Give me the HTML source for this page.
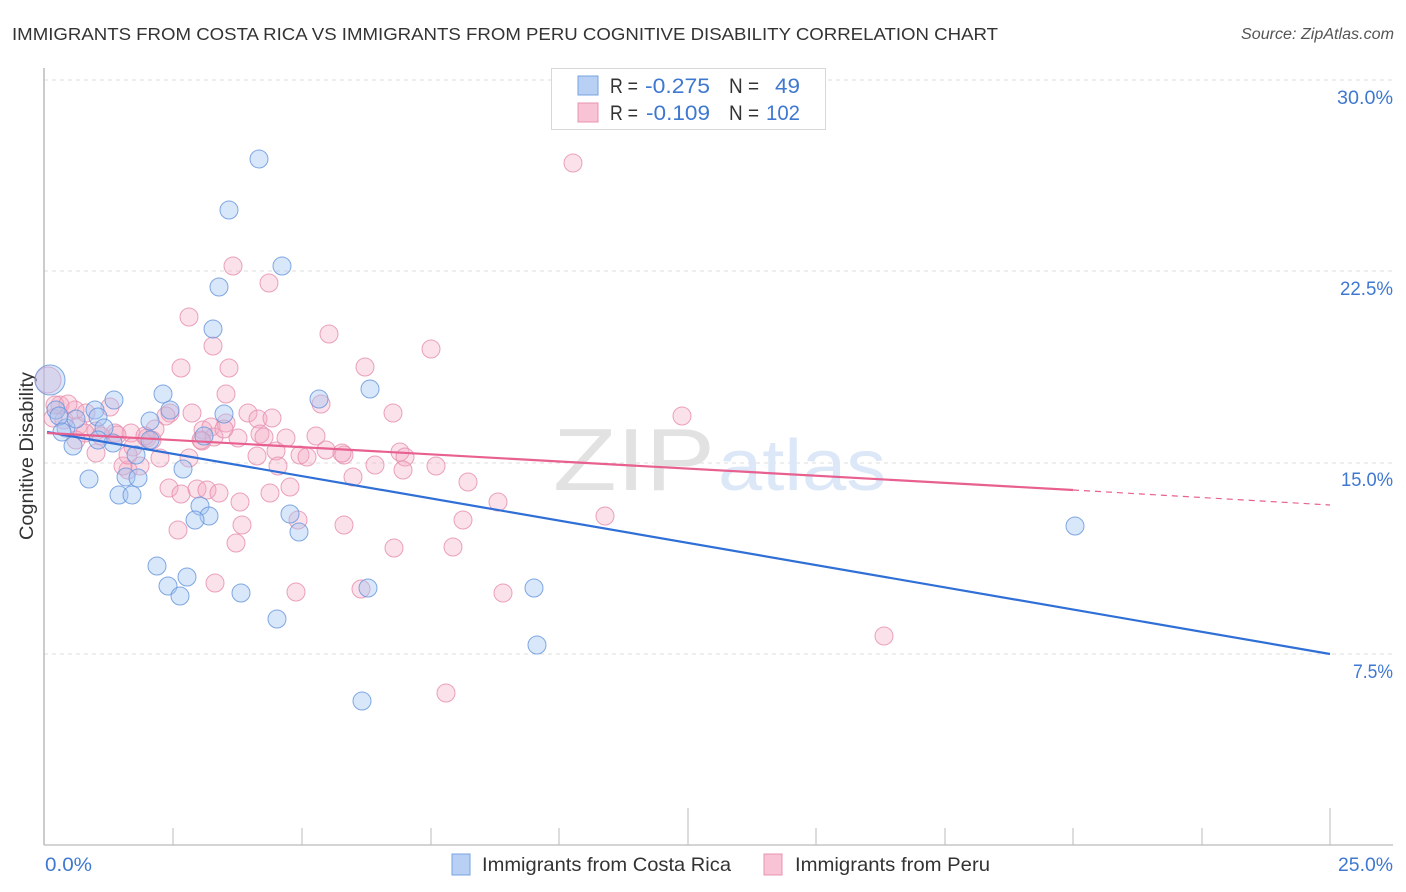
<!DOCTYPE html>
<html><head><meta charset="utf-8"><style>
html,body{margin:0;padding:0;background:#fff;}
svg{display:block;}
text{font-family:"Liberation Sans",sans-serif;}
</style></head><body>
<svg width="1406" height="892" viewBox="0 0 1406 892" xmlns="http://www.w3.org/2000/svg">
<rect width="1406" height="892" fill="#fff"/>
<text x="12" y="40" font-size="17.5" fill="#333" textLength="986" lengthAdjust="spacingAndGlyphs">IMMIGRANTS FROM COSTA RICA VS IMMIGRANTS FROM PERU COGNITIVE DISABILITY CORRELATION CHART</text>
<text x="1241" y="39" font-size="15.5" fill="#555" font-style="italic" textLength="153" lengthAdjust="spacingAndGlyphs">Source: ZipAtlas.com</text>
<g stroke="#dcdcdc" stroke-width="1" stroke-dasharray="4,4">
<line x1="44" y1="80" x2="1393" y2="80"/>
<line x1="44" y1="271" x2="1393" y2="271"/>
<line x1="44" y1="463" x2="1393" y2="463"/>
<line x1="44" y1="654" x2="1393" y2="654"/>
</g>
<g font-size="19" fill="#3f78d0">
<text x="1337" y="104" textLength="56" lengthAdjust="spacingAndGlyphs">30.0%</text>
<text x="1340" y="295" textLength="53" lengthAdjust="spacingAndGlyphs">22.5%</text>
<text x="1341" y="486" textLength="52" lengthAdjust="spacingAndGlyphs">15.0%</text>
<text x="1353" y="678" textLength="40" lengthAdjust="spacingAndGlyphs">7.5%</text>
<text x="45" y="871" textLength="47" lengthAdjust="spacingAndGlyphs">0.0%</text>
<text x="1338" y="871" textLength="55" lengthAdjust="spacingAndGlyphs">25.0%</text>
</g>
<text transform="translate(33,540) rotate(-90)" font-size="19" fill="#333" textLength="168" lengthAdjust="spacingAndGlyphs">Cognitive Disability</text>
<text x="553" y="490" font-size="88" fill="#e2e2e2" font-family="Liberation Serif,serif" textLength="162" lengthAdjust="spacingAndGlyphs">ZIP</text>
<text x="718" y="490" font-size="72" fill="#dce7f7" textLength="168" lengthAdjust="spacingAndGlyphs">atlas</text>
<line x1="44" y1="68" x2="44" y2="845" stroke="#aaa" stroke-width="1.2"/>
<line x1="44" y1="845" x2="1393" y2="845" stroke="#bbb" stroke-width="1.2"/>
<g stroke="#bbb" stroke-width="1">
<line x1="173" y1="828" x2="173" y2="845"/>
<line x1="302" y1="828" x2="302" y2="845"/>
<line x1="431" y1="828" x2="431" y2="845"/>
<line x1="559" y1="828" x2="559" y2="845"/>
<line x1="688" y1="808" x2="688" y2="845"/>
<line x1="816" y1="828" x2="816" y2="845"/>
<line x1="945" y1="828" x2="945" y2="845"/>
<line x1="1073" y1="828" x2="1073" y2="845"/>
<line x1="1202" y1="828" x2="1202" y2="845"/>
<line x1="1330" y1="808" x2="1330" y2="845"/>
</g>
<g fill="rgba(244,170,196,0.35)" stroke="rgba(230,140,172,0.8)" stroke-width="1">
<circle cx="48" cy="380" r="13"/>
<circle cx="573" cy="163" r="9"/>
<circle cx="723" cy="108" r="9"/>
<circle cx="233" cy="266" r="9"/>
<circle cx="269" cy="283" r="9"/>
<circle cx="189" cy="317" r="9"/>
<circle cx="329" cy="334" r="9"/>
<circle cx="213" cy="346" r="9"/>
<circle cx="431" cy="349" r="9"/>
<circle cx="181" cy="368" r="9"/>
<circle cx="229" cy="368" r="9"/>
<circle cx="365" cy="367" r="9"/>
<circle cx="226" cy="394" r="9"/>
<circle cx="321" cy="404" r="9"/>
<circle cx="393" cy="413" r="9"/>
<circle cx="110" cy="407" r="9"/>
<circle cx="170" cy="413" r="9"/>
<circle cx="192" cy="413" r="9"/>
<circle cx="248" cy="413" r="9"/>
<circle cx="258" cy="419" r="9"/>
<circle cx="272" cy="418" r="9"/>
<circle cx="203" cy="430" r="9"/>
<circle cx="211" cy="427" r="9"/>
<circle cx="682" cy="416" r="9"/>
<circle cx="96" cy="431" r="9"/>
<circle cx="78" cy="426" r="9"/>
<circle cx="64" cy="420" r="9"/>
<circle cx="60" cy="405" r="9"/>
<circle cx="75" cy="410" r="9"/>
<circle cx="86" cy="413" r="9"/>
<circle cx="101" cy="436" r="9"/>
<circle cx="115" cy="433" r="9"/>
<circle cx="131" cy="433" r="9"/>
<circle cx="147" cy="438" r="9"/>
<circle cx="152" cy="440" r="9"/>
<circle cx="166" cy="416" r="9"/>
<circle cx="155" cy="429" r="9"/>
<circle cx="160" cy="458" r="9"/>
<circle cx="189" cy="458" r="9"/>
<circle cx="202" cy="441" r="9"/>
<circle cx="214" cy="437" r="9"/>
<circle cx="226" cy="423" r="9"/>
<circle cx="238" cy="438" r="9"/>
<circle cx="260" cy="434" r="9"/>
<circle cx="264" cy="437" r="9"/>
<circle cx="286" cy="438" r="9"/>
<circle cx="300" cy="455" r="9"/>
<circle cx="316" cy="436" r="9"/>
<circle cx="326" cy="450" r="9"/>
<circle cx="344" cy="455" r="9"/>
<circle cx="276" cy="451" r="9"/>
<circle cx="257" cy="456" r="9"/>
<circle cx="278" cy="466" r="9"/>
<circle cx="307" cy="457" r="9"/>
<circle cx="290" cy="487" r="9"/>
<circle cx="270" cy="493" r="9"/>
<circle cx="375" cy="465" r="9"/>
<circle cx="400" cy="452" r="9"/>
<circle cx="405" cy="457" r="9"/>
<circle cx="403" cy="470" r="9"/>
<circle cx="436" cy="466" r="9"/>
<circle cx="468" cy="482" r="9"/>
<circle cx="498" cy="502" r="9"/>
<circle cx="463" cy="520" r="9"/>
<circle cx="605" cy="516" r="9"/>
<circle cx="298" cy="520" r="9"/>
<circle cx="344" cy="525" r="9"/>
<circle cx="242" cy="525" r="9"/>
<circle cx="236" cy="543" r="9"/>
<circle cx="178" cy="530" r="9"/>
<circle cx="169" cy="488" r="9"/>
<circle cx="181" cy="494" r="9"/>
<circle cx="197" cy="489" r="9"/>
<circle cx="207" cy="490" r="9"/>
<circle cx="219" cy="493" r="9"/>
<circle cx="240" cy="502" r="9"/>
<circle cx="215" cy="583" r="9"/>
<circle cx="296" cy="592" r="9"/>
<circle cx="394" cy="548" r="9"/>
<circle cx="453" cy="547" r="9"/>
<circle cx="361" cy="589" r="9"/>
<circle cx="503" cy="593" r="9"/>
<circle cx="446" cy="693" r="9"/>
<circle cx="884" cy="636" r="9"/>
<circle cx="128" cy="470" r="9"/>
<circle cx="123" cy="466" r="9"/>
<circle cx="140" cy="466" r="9"/>
<circle cx="133" cy="447" r="9"/>
<circle cx="145" cy="436" r="9"/>
<circle cx="96" cy="453" r="9"/>
<circle cx="85" cy="433" r="9"/>
<circle cx="76" cy="440" r="9"/>
<circle cx="53" cy="418" r="9"/>
<circle cx="55" cy="405" r="9"/>
<circle cx="68" cy="404" r="9"/>
<circle cx="128" cy="455" r="9"/>
<circle cx="117" cy="435" r="9"/>
<circle cx="201" cy="440" r="9"/>
<circle cx="224" cy="429" r="9"/>
<circle cx="342" cy="453" r="9"/>
<circle cx="353" cy="477" r="9"/>
</g>
<g fill="rgba(164,198,242,0.42)" stroke="rgba(100,148,220,0.8)" stroke-width="1">
<circle cx="50" cy="380" r="15"/>
<circle cx="259" cy="159" r="9"/>
<circle cx="229" cy="210" r="9"/>
<circle cx="282" cy="266" r="9"/>
<circle cx="219" cy="287" r="9"/>
<circle cx="213" cy="329" r="9"/>
<circle cx="319" cy="399" r="9"/>
<circle cx="163" cy="394" r="9"/>
<circle cx="370" cy="389" r="9"/>
<circle cx="114" cy="400" r="9"/>
<circle cx="95" cy="410" r="9"/>
<circle cx="56" cy="410" r="9"/>
<circle cx="224" cy="414" r="9"/>
<circle cx="170" cy="410" r="9"/>
<circle cx="150" cy="421" r="9"/>
<circle cx="98" cy="417" r="9"/>
<circle cx="66" cy="428" r="9"/>
<circle cx="104" cy="428" r="9"/>
<circle cx="59" cy="416" r="9"/>
<circle cx="204" cy="436" r="9"/>
<circle cx="150" cy="440" r="9"/>
<circle cx="113" cy="443" r="9"/>
<circle cx="73" cy="446" r="9"/>
<circle cx="62" cy="432" r="9"/>
<circle cx="136" cy="455" r="9"/>
<circle cx="183" cy="469" r="9"/>
<circle cx="89" cy="479" r="9"/>
<circle cx="126" cy="477" r="9"/>
<circle cx="138" cy="478" r="9"/>
<circle cx="119" cy="495" r="9"/>
<circle cx="132" cy="495" r="9"/>
<circle cx="200" cy="506" r="9"/>
<circle cx="209" cy="516" r="9"/>
<circle cx="195" cy="520" r="9"/>
<circle cx="290" cy="514" r="9"/>
<circle cx="299" cy="532" r="9"/>
<circle cx="157" cy="566" r="9"/>
<circle cx="168" cy="586" r="9"/>
<circle cx="187" cy="577" r="9"/>
<circle cx="180" cy="596" r="9"/>
<circle cx="241" cy="593" r="9"/>
<circle cx="368" cy="588" r="9"/>
<circle cx="534" cy="588" r="9"/>
<circle cx="277" cy="619" r="9"/>
<circle cx="537" cy="645" r="9"/>
<circle cx="362" cy="701" r="9"/>
<circle cx="1075" cy="526" r="9"/>
<circle cx="98" cy="440" r="9"/>
<circle cx="76" cy="419" r="9"/>
</g>
<line x1="47" y1="432" x2="1330" y2="654" stroke="#2f6fd6" stroke-width="2.2"/>
<line x1="47" y1="433" x2="1073" y2="490" stroke="#e8608f" stroke-width="2.2"/>
<line x1="1073" y1="490" x2="1330" y2="505" stroke="#e8608f" stroke-width="1.2" stroke-dasharray="6,5"/>
<rect x="551.5" y="68.5" width="274" height="61" fill="#fff" stroke="#d8d8d8" stroke-width="1"/>
<rect x="578" y="76" width="20" height="19" fill="#b7d0f4" stroke="#7aa3e2" stroke-width="1"/>
<rect x="578" y="103" width="20" height="19" fill="#f8c3d4" stroke="#e893b0" stroke-width="1"/>
<g font-size="21">
<text x="610" y="93" fill="#333" textLength="28" lengthAdjust="spacingAndGlyphs">R =</text>
<text x="645" y="93" fill="#3f78d0" textLength="65" lengthAdjust="spacingAndGlyphs">-0.275</text>
<text x="729" y="93" fill="#333" textLength="30" lengthAdjust="spacingAndGlyphs">N =</text>
<text x="775" y="93" fill="#3f78d0" textLength="25" lengthAdjust="spacingAndGlyphs">49</text>
<text x="610" y="120" fill="#333" textLength="28" lengthAdjust="spacingAndGlyphs">R =</text>
<text x="646" y="120" fill="#3f78d0" textLength="64" lengthAdjust="spacingAndGlyphs">-0.109</text>
<text x="729" y="120" fill="#333" textLength="30" lengthAdjust="spacingAndGlyphs">N =</text>
<text x="766" y="120" fill="#3f78d0" textLength="34" lengthAdjust="spacingAndGlyphs">102</text>
</g>
<rect x="452" y="854" width="18" height="21" fill="#b7d0f4" stroke="#7aa3e2" stroke-width="1"/>
<text x="482" y="871" font-size="19.5" fill="#333" textLength="249" lengthAdjust="spacingAndGlyphs">Immigrants from Costa Rica</text>
<rect x="764" y="854" width="18" height="21" fill="#f8c3d4" stroke="#e893b0" stroke-width="1"/>
<text x="795" y="871" font-size="19.5" fill="#333" textLength="195" lengthAdjust="spacingAndGlyphs">Immigrants from Peru</text>
</svg>
</body></html>
